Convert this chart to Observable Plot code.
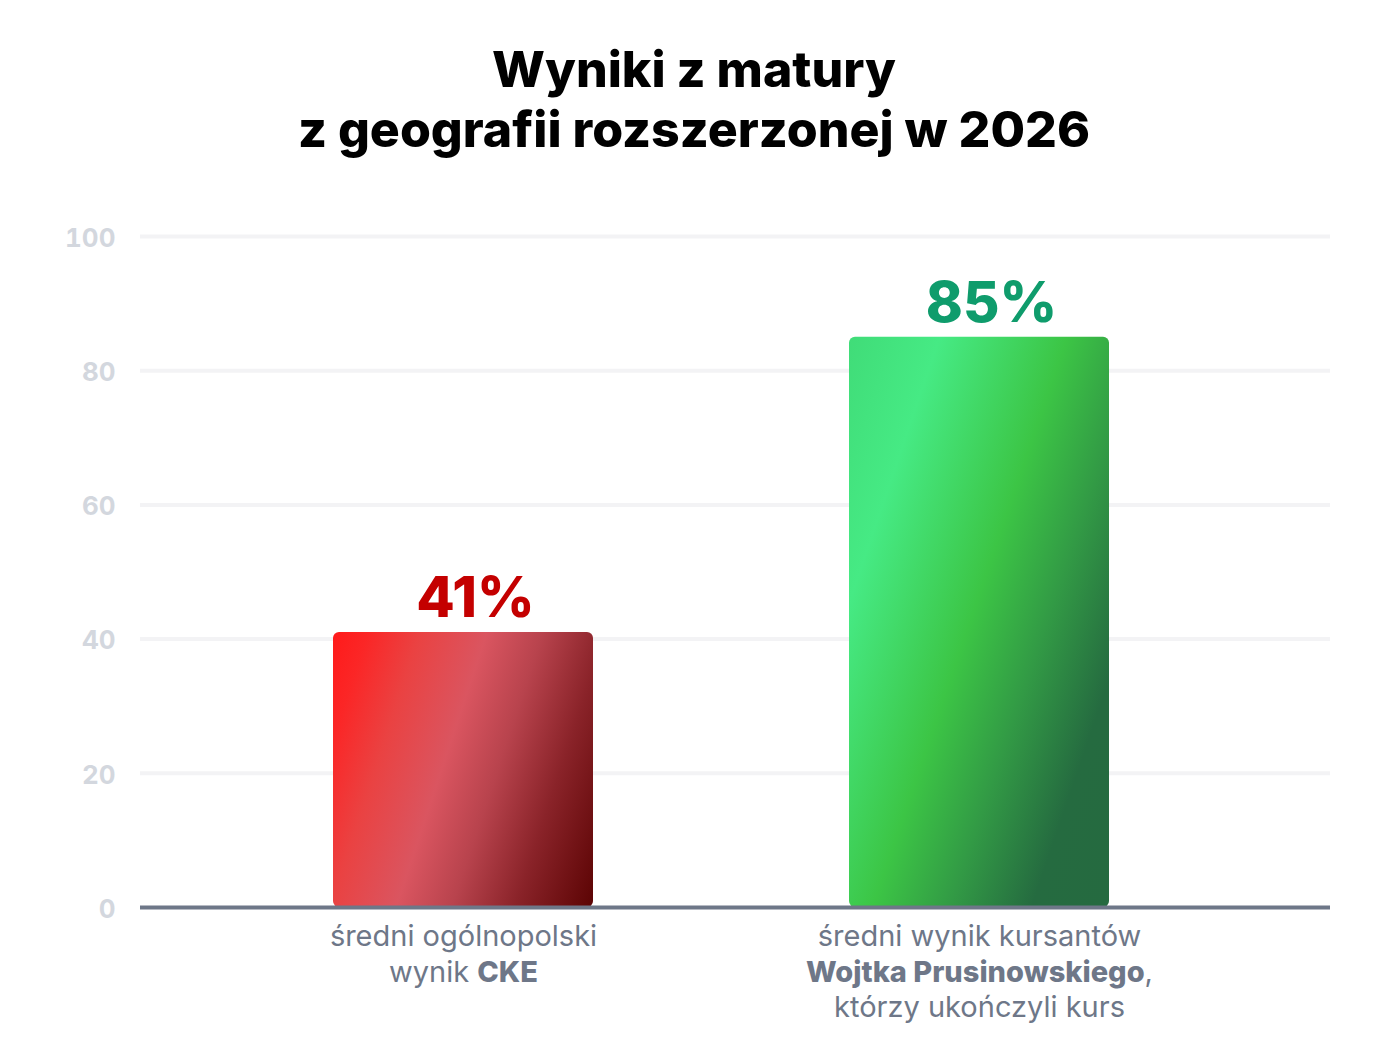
<!DOCTYPE html>
<html>
<head>
<meta charset="utf-8">
<script src="https://cdn.jsdelivr.net/npm/d3@7"></script>
<script src="https://cdn.jsdelivr.net/npm/@observablehq/plot@0.6"></script>
<style>
  html, body { margin: 0; padding: 0; background: #fff; }
  body { width: 1388px; height: 1063px; position: relative; overflow: hidden; font-family: Inter, "Noto Sans", sans-serif; }
  #title { position: absolute; top: 39px; left: 0; width: 1388px; text-align: center; font-size: 50px; line-height: 60px; font-weight: 800; color: #000; }
  #chart { position: absolute; top: 180px; left: 0; }
</style>
</head>
<body>
<div id="title"></div>
<div id="chart"></div>
<script>
const titleLines = ["Wyniki z matury", "z geografii rozszerzonej w 2026"];
const categories = [
  "średni ogólnopolski\nwynik **CKE**",
  "średni wynik kursantów\n**Wojtka Prusinowskiego**,\nktórzy ukończyli kurs"
];
const values = [41, 85];
const valueLabels = ["41%", "85%"];
const yTicks = [0, 20, 40, 60, 80, 100];

document.getElementById("title").innerHTML = titleLines.join("<br>");

const data = categories.map((c, i) => ({category: c, value: values[i], label: valueLabels[i]}));

const defsMark = () => {
  const g = d3.create("svg:g");
  const defs = g.append("defs");
  const red = defs.append("linearGradient").attr("id", "gradRed")
    .attr("x1", 0).attr("y1", 0).attr("x2", 1.2).attr("y2", 0.42);
  [[0, "#ff1a1a"], [0.1, "#fb2626"], [0.25, "#ea4242"], [0.44, "#da5560"], [0.6, "#b8434d"], [0.78, "#8a2329"], [1, "#5c0404"]]
    .forEach(([o, c]) => red.append("stop").attr("offset", o).attr("stop-color", c));
  const green = defs.append("linearGradient").attr("id", "gradGreen")
    .attr("x1", 0).attr("y1", 0).attr("x2", 1.12).attr("y2", 0.84);
  [[0, "#40dc78"], [0.2, "#46ea84"], [0.48, "#3cc545"], [0.65, "#329a45"], [0.83, "#256b40"], [1, "#256a40"]]
    .forEach(([o, c]) => green.append("stop").attr("offset", o).attr("stop-color", c));
  return g.node();
};

const valueColors = ["#c40000", "#0f9c6c"];
const gradients = ["url(#gradRed)", "url(#gradGreen)"];

const plot = Plot.plot({
  width: 1388,
  height: 883,
  marginTop: 56,
  marginBottom: 156,
  marginLeft: 140,
  marginRight: 58,
  style: {fontFamily: "Inter, 'Noto Sans', sans-serif", background: "#fff"},
  x: {domain: categories, range: [332, 1109], paddingInner: 0.497, paddingOuter: 0, label: null},
  y: {domain: [0, 100], label: null},
  marks: [
    defsMark,
    Plot.ruleY(yTicks.filter(d => d > 0), {stroke: "#f3f3f5", strokeWidth: 4}),
    ...data.map((d, i) => Plot.barY([d], {x: "category", y: "value", fill: gradients[i], rx: 6})),
    Plot.ruleY([0], {stroke: "#6e7788", strokeWidth: 4}),
    ...data.map((d, i) => Plot.text([d], {x: "category", y: "value", text: "label", fill: valueColors[i],
      fontSize: 56, fontWeight: 800, lineAnchor: "bottom", dy: -15, dx: 12})),
    Plot.axisY({ticks: yTicks, tickSize: 0, tickPadding: 25, fontSize: 26, fontWeight: 700, fill: "#d3d7de", label: null, dy: 2}),
    Plot.axisX({tickSize: 0, tickPadding: 14, fontSize: 29, fill: "#6e7788", lineHeight: 1.21, label: null})
  ]
});

// Apply bold segments marked with **...**
d3.select(plot).selectAll("text").each(function() {
  const t = d3.select(this);
  const targets = t.selectAll("tspan").size() ? t.selectAll("tspan") : t;
  targets.each(function() {
    const el = d3.select(this);
    const s = el.text();
    if (!s.includes("**")) return;
    el.text("");
    s.split("**").forEach((part, k) => {
      if (!part) return;
      const sp = el.append("tspan").text(part);
      if (k % 2 === 1) sp.attr("font-weight", 800);
    });
  });
});

document.getElementById("chart").appendChild(plot);
</script>
</body>
</html>
